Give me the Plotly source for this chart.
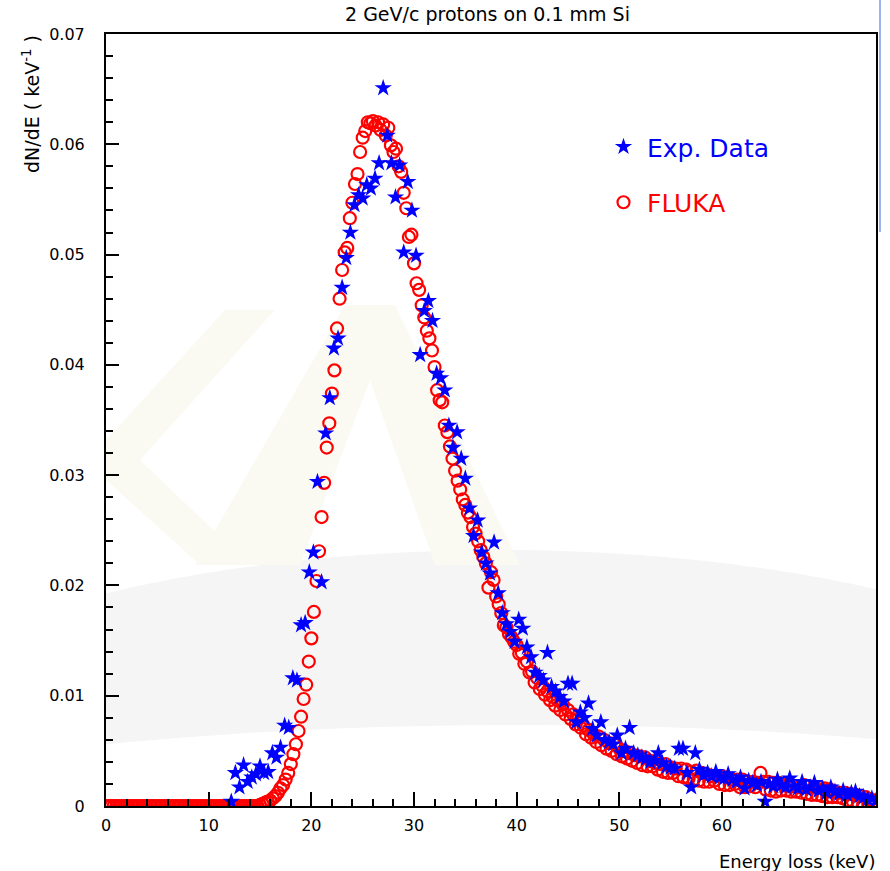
import numpy as np
import plotly.graph_objects as go

# ---------------- data ----------------
title_text = "2 GeV/c protons on 0.1 mm Si"
x_title = "Energy loss (keV)"
y_title = "dN/dE ( keV<sup>-1</sup> )"
x_ticks = [0, 10, 20, 30, 40, 50, 60, 70]
y_ticks = [0, 0.01, 0.02, 0.03, 0.04, 0.05, 0.06, 0.07]
y_tick_labels = ["0", "0.01", "0.02", "0.03", "0.04", "0.05", "0.06", "0.07"]

# FLUKA histogram: bins of 0.25 keV starting at 0 keV
fluka_bin_start = 0.0
fluka_bin_width = 0.25
fluka_y = (
    [0.0] * 60 +  # 0 - 14.75 keV
    [0.0001, 0.0002, 0.0003, 0.0004,   # 15
     0.0005, 0.0007, 0.0009, 0.0012,   # 16
     0.0016, 0.0019, 0.0024, 0.0030,   # 17
     0.0038, 0.0047, 0.0056, 0.0068,   # 18
     0.0081, 0.0097, 0.0110, 0.0131,   # 19
     0.0152, 0.0176, 0.0204, 0.0231,   # 20
     0.0262, 0.0293, 0.0325, 0.0347,   # 21
     0.0374, 0.0395, 0.0433, 0.0460,   # 22
     0.0486, 0.0502, 0.0506, 0.0533,   # 23
     0.0547, 0.0564, 0.0573, 0.0593,   # 24
     0.0606, 0.0612, 0.0620, 0.0619,   # 25
     0.0621, 0.0617, 0.0620, 0.0613,   # 26
     0.0618, 0.0608, 0.0615, 0.0599,   # 27
     0.0593, 0.0596, 0.0580, 0.0575,   # 28
     0.0556, 0.0542, 0.0516, 0.0518,   # 29
     0.0492, 0.0474, 0.0468, 0.0454,   # 30
     0.0443, 0.0431, 0.0424, 0.0413,   # 31
     0.0398, 0.0377, 0.0368, 0.0366,   # 32
     0.0345, 0.0339, 0.0326, 0.0315,   # 33
     0.0304, 0.0295, 0.0287, 0.0278,   # 34
     0.0273, 0.0266, 0.0262, 0.0253,   # 35
     0.0247, 0.0240, 0.0232, 0.0226,   # 36
     0.0220, 0.0198, 0.0212, 0.0205,   # 37
     0.0190, 0.0183, 0.0175, 0.0164,   # 38
     0.0162, 0.0156, 0.0153, 0.0149,   # 39
     0.0146, 0.0138, 0.0139, 0.0129,   # 40
     0.0131, 0.0121, 0.0122, 0.0112,   # 41
     0.0116, 0.0106, 0.0109, 0.0101,   # 42
     0.0104, 0.0096, 0.0099, 0.0091,   # 43
     0.0096, 0.0087, 0.0092, 0.0083,   # 44
     0.0087, 0.0079, 0.0083, 0.0074,   # 45
     0.0079, 0.0071, 0.0073, 0.0065,   # 46
     0.0069, 0.0062, 0.0065, 0.0058,   # 47
     0.0063, 0.0055, 0.0060, 0.0052,   # 48
     0.0057, 0.0050, 0.0056, 0.0047,   # 49
     0.0052, 0.0045, 0.0050, 0.0043,   # 50
     0.0048, 0.0041, 0.0046, 0.0039,   # 51
     0.0045, 0.0037, 0.0044, 0.0036,   # 52
     0.0041, 0.0036, 0.0039, 0.0033,   # 53
     0.0038, 0.0031, 0.0038, 0.0030,   # 54
     0.0035, 0.0030, 0.0034, 0.0027,   # 55
     0.0034, 0.0026, 0.0033, 0.0025,   # 56
     0.0031, 0.0024, 0.0032, 0.0023,   # 57
     0.0030, 0.0022, 0.0029, 0.0022,   # 58
     0.0027, 0.0023, 0.0027, 0.0020,   # 59
     0.0027, 0.0019, 0.0026, 0.0019,   # 60
     0.0024, 0.0020, 0.0024, 0.0017,   # 61
     0.0024, 0.0017, 0.0022, 0.0018,   # 62
     0.0022, 0.0017, 0.0021, 0.0030,   # 63
     0.0022, 0.0015, 0.0022, 0.0014,   # 64
     0.0021, 0.0013, 0.0021, 0.0014,   # 65
     0.0019, 0.0014, 0.0018, 0.0013,   # 66
     0.0018, 0.0013, 0.0017, 0.0012,   # 67
     0.0019, 0.0011, 0.0018, 0.0010,   # 68
     0.0017, 0.0010, 0.0017, 0.0009,   # 69
     0.0016, 0.0008, 0.0015, 0.0008,   # 70
     0.0013, 0.0008, 0.0012, 0.0007,   # 71
     0.0012, 0.0005, 0.0011, 0.0004,   # 72
     0.0010, 0.0003, 0.0009, 0.0002,   # 73
     0.0008, 0.0002, 0.0006, 0.0001,   # 74
     0.0004]                           # 75
)

# Experimental data: points every 0.4 keV starting at 12.2 keV
exp_bin_start = 12.2
exp_bin_width = 0.4
exp_y = [
    0.0004, 0.0030, 0.0017, 0.0037, 0.0022, 0.0026, 0.0029, 0.0036, 0.0030, 0.0031,
    0.0048, 0.0044, 0.0053, 0.0073, 0.0071, 0.0116, 0.0114, 0.0164, 0.0166, 0.0212,
    0.0230, 0.0294, 0.0203, 0.0338, 0.0370, 0.0415, 0.0424, 0.0470, 0.0497, 0.0520,
    0.0545, 0.0554, 0.0551, 0.0563, 0.0560, 0.0569, 0.0583, 0.0651, 0.0608, 0.0583,
    0.0552, 0.0581, 0.0502, 0.0566, 0.0540, 0.0499, 0.0409, 0.0449, 0.0458, 0.0440,
    0.0392, 0.0388, 0.0377, 0.0345, 0.0325, 0.0339, 0.0315, 0.0297, 0.0270, 0.0245,
    0.0259, 0.0230, 0.0220, 0.0211, 0.0239, 0.0193, 0.0175, 0.0165, 0.0158, 0.0149,
    0.0169, 0.0161, 0.0144, 0.0135, 0.0121, 0.0118, 0.0114, 0.0139, 0.0108, 0.0104,
    0.0099, 0.0095, 0.0111, 0.0111, 0.0076, 0.0085, 0.0080, 0.0093, 0.0070, 0.0064,
    0.0076, 0.0060, 0.0058, 0.0056, 0.0064, 0.0048, 0.0052, 0.0071, 0.0048, 0.0046,
    0.0044, 0.0043, 0.0040, 0.0041, 0.0048, 0.0039, 0.0036, 0.0035, 0.0034, 0.0052,
    0.0052, 0.0030, 0.0017, 0.0048, 0.0033, 0.0028, 0.0030, 0.0027, 0.0031, 0.0026,
    0.0025, 0.0029, 0.0024, 0.0022, 0.0026, 0.0016, 0.0023, 0.0021, 0.0019, 0.0022,
    0.0004, 0.0020, 0.0018, 0.0024, 0.0019, 0.0017, 0.0025, 0.0018, 0.0016, 0.0022,
    0.0015, 0.0017, 0.0021, 0.0014, 0.0016, 0.0012, 0.0017, 0.0013, 0.0011, 0.0014,
    0.0010, 0.0012, 0.0013, 0.0009, 0.0008, 0.0006, 0.0007, 0.0005,
]

fluka_x = np.round(fluka_bin_start + fluka_bin_width * np.arange(len(fluka_y)), 3)
exp_x = np.round(exp_bin_start + exp_bin_width * np.arange(len(exp_y)), 3)

# ---------------- figure ----------------
W, H = 890, 871
ML, MR, MT, MB = 106, 14, 34, 65
PW = W - ML - MR
PH = H - MT - MB

fig = go.Figure()

fig.add_trace(go.Scatter(
    x=fluka_x, y=fluka_y, mode="markers",
    name="<span style='color:#ff0000'>FLUKA</span>",
    legendgroup="b", legendrank=2,
    marker=dict(symbol="circle-open", size=12, color="#ff0000",
                line=dict(width=2.2, color="#ff0000")),
))
fig.add_trace(go.Scatter(
    x=exp_x, y=exp_y, mode="markers",
    name="<span style='color:#0000ff'>Exp. Data</span>",
    legendgroup="a", legendrank=1,
    marker=dict(symbol="star", size=13, color="#0000ff", line=dict(width=0)),
))

# faint background logo (swoosh + letters), clipped to the plot area
def px2d(px, py):
    return ((px - ML) / PW * 75.0, (MT + PH - py) / PH * 0.07)

shapes = []
x0, y0 = px2d(-200, 550)
x1, y1 = px2d(1200, 1050)
shapes.append(dict(type="circle", xref="x", yref="y", x0=x0, y0=y0, x1=x1, y1=y1,
                   fillcolor="#f5f5f5", line=dict(width=0), layer="below"))
x0, y0 = px2d(-200, 725)
x1, y1 = px2d(1240, 940)
shapes.append(dict(type="circle", xref="x", yref="y", x0=x0, y0=y0, x1=x1, y1=y1,
                   fillcolor="#ffffff", line=dict(width=0), layer="below"))

def poly(points):
    s = ""
    for i, (px, py) in enumerate(points):
        dx, dy = px2d(px, py)
        s += ("M" if i == 0 else "L") + f"{dx:.4f},{dy:.6f} "
    return s + "Z "

logo_color = "#fafaf3"
a_path = poly([(195, 565), (345, 305), (395, 305), (520, 565)]) + \
         poly([(300, 565), (370, 380), (435, 565)])
shapes.append(dict(type="path", xref="x", yref="y", path=a_path,
                   fillcolor=logo_color, line=dict(width=0), layer="below"))
k_path = poly([(106, 440), (225, 310), (275, 310), (140, 460),
               (250, 565), (200, 565), (106, 480)])
shapes.append(dict(type="path", xref="x", yref="y", path=k_path,
                   fillcolor=logo_color, line=dict(width=0), layer="below"))

# light vertical line at the right border of the picture
shapes.append(dict(type="line", xref="paper", yref="paper",
                   x0=(880 - ML) / PW, x1=(880 - ML) / PW,
                   y0=(MT + PH) / PH, y1=(MT + PH - 232) / PH,
                   line=dict(color="#9db0f2", width=2)))

font_main = "DejaVu Sans, Liberation Sans, sans-serif"

fig.update_layout(
    width=W, height=H,
    margin=dict(l=ML, r=MR, t=MT, b=MB, pad=0),
    paper_bgcolor="white", plot_bgcolor="white",
    shapes=shapes,
    showlegend=True,
    legend=dict(x=(600 - ML) / PW, y=(MT + PH - 124) / PH, xanchor="left", yanchor="top",
                bgcolor="rgba(0,0,0,0)", font=dict(family=font_main, size=25),
                tracegroupgap=20, itemwidth=37),
    annotations=[
        dict(text=title_text, xref="paper", yref="paper", x=(487 - ML) / PW,
             y=(MT + PH - 14) / PH, xanchor="center", yanchor="middle", showarrow=False,
             font=dict(family=font_main, size=19, color="black")),
        dict(text=x_title, xref="paper", yref="paper", x=(877 - ML) / PW,
             y=(MT + PH - 861) / PH, xanchor="right", yanchor="middle", showarrow=False,
             font=dict(family=font_main, size=18, color="black")),
        dict(text=y_title, xref="paper", yref="paper", x=(31 - ML) / PW,
             y=(MT + PH - 33) / PH, xanchor="center", yanchor="top", showarrow=False,
             textangle=-90, font=dict(family=font_main, size=19, color="black")),
    ],
)

fig.update_xaxes(
    range=[0, 75], showgrid=False, zeroline=False,
    showline=True, linecolor="black", linewidth=2, mirror=True,
    tickmode="array", tickvals=x_ticks, ticktext=[str(v) for v in x_ticks],
    ticks="inside", ticklen=14, tickwidth=1.5, tickcolor="black",
    minor=dict(ticks="inside", ticklen=7, tickwidth=1.5, tickcolor="black", dtick=2, tick0=0, showgrid=False),
    tickfont=dict(family=font_main, size=16, color="black"),
    ticklabelstandoff=4,
)
fig.update_yaxes(
    range=[0, 0.07], showgrid=False, zeroline=False,
    showline=True, linecolor="black", linewidth=2, mirror=True,
    tickmode="array", tickvals=y_ticks, ticktext=y_tick_labels,
    ticks="inside", ticklen=13, tickwidth=1.5, tickcolor="black",
    minor=dict(ticks="inside", ticklen=7, tickwidth=1.5, tickcolor="black", dtick=0.002, tick0=0, showgrid=False),
    tickfont=dict(family=font_main, size=16, color="black"),
    ticklabelstandoff=16,
)

fig.write_html("out.html")
